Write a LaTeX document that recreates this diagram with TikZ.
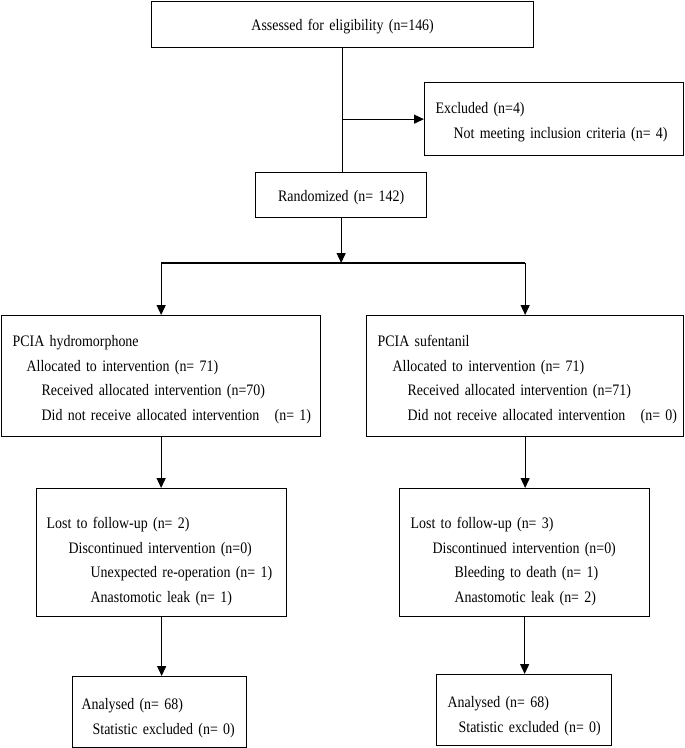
\documentclass[tikz,border=0pt]{standalone}
\usepackage{fontspec}
\setmainfont{Liberation Serif}[FakeStretch=0.87]
\usetikzlibrary{arrows.meta}

\tikzset{
  box/.style={draw, line width=1.3pt, align=left, anchor=north west,
    inner ysep=0pt, font=\fontsize{16}{24.5}\selectfont},
  link/.style={line width=1.3pt},
  arr/.style={link, -{Triangle[length=10pt,width=9pt]}}
}
% one indented line of a box
\newcommand{\row}[2]{\hspace*{#1pt}\mbox{#2}}
% strut on the first line, pushes the text block down
\newcommand{\pad}[1]{\rule{0pt}{#1pt}}

\begin{document}
\begin{tikzpicture}[x=1pt,y=-1pt]
    \useasboundingbox (0,0) rectangle (685,748);
    % enrolment
    \node[box, align=center, text width=360pt, inner xsep=11pt, minimum height=46pt] (assess) at (151,1) {\pad{15}Assessed for eligibility (n=146)};
    \node[box, text width=237pt, inner xsep=11pt, minimum height=73pt] (excl) at (424,82)
        {\pad{17}\row{0}{Excluded (n=4)}\\ \row{18}{Not meeting inclusion criteria (n= 4)}};
    \node[box, align=center, text width=151pt, inner xsep=10pt, minimum height=45pt] (rand) at (255,172) {\pad{17}Randomized (n= 142)};
    % allocation
    \node[box, text width=297pt, inner xsep=11pt, minimum height=121pt] (hydro) at (1,315)
        {\pad{18}\row{0}{PCIA hydromorphone}\\ \row{14}{Allocated to intervention (n= 71)}\\
         \row{29}{Received allocated intervention (n=70)}\\ \row{29}{Did not receive allocated intervention\hspace{10pt} (n= 1)}};
    \node[box, text width=295pt, inner xsep=11pt, minimum height=121pt] (sufen) at (366,315)
        {\pad{18}\row{0}{PCIA sufentanil}\\ \row{15}{Allocated to intervention (n= 71)}\\
         \row{30}{Received allocated intervention (n=71)}\\ \row{30}{Did not receive allocated intervention\hspace{10pt} (n= 0)}};
    % follow-up
    \node[box, text width=230pt, inner xsep=10pt, minimum height=128pt] (lost1) at (36,488)
        {\pad{29}\row{0}{Lost to follow-up (n= 2)}\\ \row{22}{Discontinued intervention (n=0)}\\
         \row{44}{Unexpected re-operation (n= 1)}\\ \row{44}{Anastomotic leak (n= 1)}};
    \node[box, text width=228pt, inner xsep=11pt, minimum height=128pt] (lost2) at (399,488)
        {\pad{29}\row{0}{Lost to follow-up (n= 3)}\\ \row{22}{Discontinued intervention (n=0)}\\
         \row{44}{Bleeding to death (n= 1)}\\ \row{44}{Anastomotic leak (n= 2)}};
    % analysis
    \node[box, text width=156pt, inner xsep=9pt, minimum height=71pt] (ana1) at (72,676)
        {\pad{23}\row{0}{Analysed (n= 68)}\\ \row{11}{Statistic excluded (n= 0)}};
    \node[box, text width=153pt, inner xsep=11pt, minimum height=71pt] (ana2) at (436,674)
        {\pad{23}\row{0}{Analysed (n= 68)}\\ \row{11}{Statistic excluded (n= 0)}};

    % connectors
    \coordinate (split) at (341,263);
    \draw[link] (assess.south) -- (assess.south |- rand.north);
    \draw[arr] (assess.south |- excl.west) -- (excl.west);
    \draw[arr] (rand.south) -- (rand.south |- split);
    \draw[link] (split -| hydro.north) -- (split -| sufen.north);
    \draw[arr] (split -| hydro.north) -- (hydro.north);
    \draw[arr] (split -| sufen.north) -- (sufen.north);
    \foreach \a/\b in {hydro/lost1,sufen/lost2,lost1/ana1,lost2/ana2}
        \draw[arr] (\a.south) -- (\a.south |- \b.north);
\end{tikzpicture}
\end{document}
